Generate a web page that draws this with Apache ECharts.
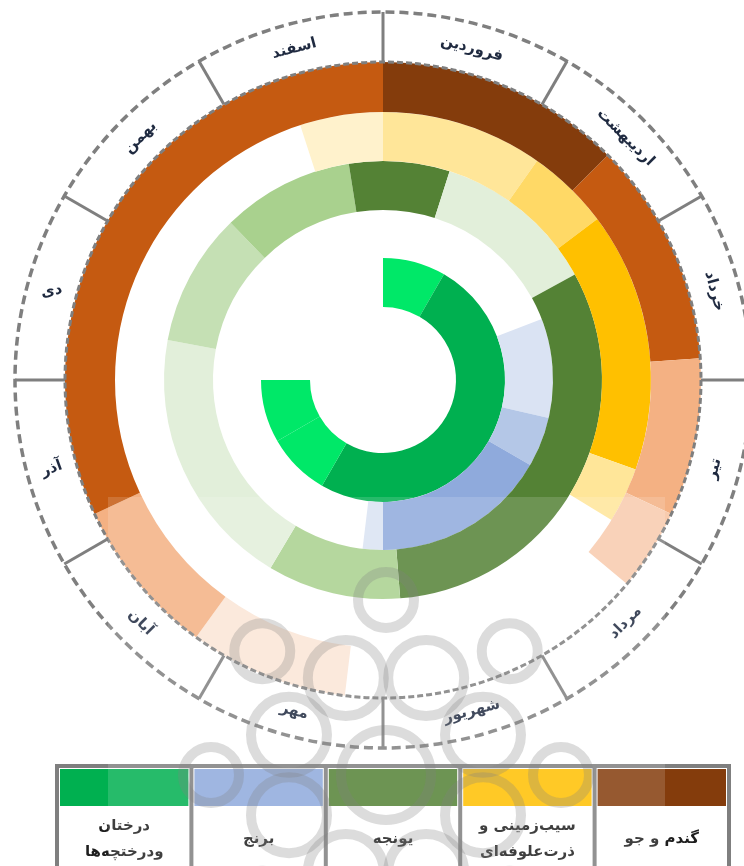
<!DOCTYPE html>
<html lang="fa">
<head>
<meta charset="utf-8">
<title>تقویم زراعی</title>
<script src="https://cdn.jsdelivr.net/npm/echarts@6.0.0/dist/echarts.min.js"></script>
<style>
  html, body { margin: 0; padding: 0; background: #fff; }
  #chart { width: 744px; height: 866px; }
</style>
</head>
<body>
<div id="chart"></div>
<script>
// months, Farvardin at the top, going clockwise
const months = ['فروردین', 'اردیبهشت', 'خرداد', 'تیر', 'مرداد', 'شهریور', 'مهر', 'آبان', 'آذر', 'دی', 'بهمن', 'اسفند'];

// each row: [from month, to month, stage]   stage 0 = nothing in the field
const wheatSeg = [[0, 1.5, 5], [1.5, 2.87, 4], [2.87, 3.83, 3], [3.83, 4.33, 2], [4.33, 6.23, 0], [6.23, 7.2, 1], [7.2, 8.17, 3], [8.17, 12, 4]];
const potatoSeg = [[0, 1.17, 2], [1.17, 1.77, 3], [1.77, 3.65, 4], [3.65, 4.05, 2], [4.05, 11.4, 0], [11.4, 12, 1]];
const alfalfaSeg = [[0, 0.59, 4], [0.59, 2.04, 1], [2.04, 5.85, 4], [5.85, 7.03, 3], [7.03, 9.35, 1], [9.35, 10.53, 2], [10.53, 11.7, 3], [11.7, 12, 4]];
const riceSeg = [[0, 2.3, 0], [2.3, 3.43, 1], [3.43, 4, 2], [4, 6, 3], [6, 6.23, 1], [6.23, 12, 0]];
const treeSeg = [[0, 1, 1], [1, 7, 2], [7, 8, 1], [8, 9, 1], [9, 12, 0]];

// legend table, right to left as in the picture
const cropNames = ['گندم و جو', 'سیب\u200cزمینی و\nذرت\u200cعلوفه\u200cای', 'یونجه', 'برنج', 'درختان\nودرختچه\u200cها'];

// colours, light -> dark, per crop
const palettes = {
  wheat: ['#FBE5D6', '#F8CBAD', '#F4B183', '#C55A11', '#843C0C'],
  potato: ['#FFF2CC', '#FFE699', '#FFD966', '#FFC000'],
  alfalfa: ['#E2EFDA', '#C5E0B4', '#A9D18E', '#548235'],
  rice: ['#DAE3F3', '#B4C7E7', '#8FAADC'],
  tree: ['#00E868', '#00B050']
};
const legendColors = ['#843C0C', '#FFC000', '#548235', '#8FAADC', '#00B050'];

const cx = 383, cy = 380;
const rInner = 318, rOuter = 368;
const grey = '#7F7F7F';

const chart = echarts.init(document.getElementById('chart'), null, {renderer: 'canvas'});

function ring(name, seg, palette, r0, r1) {
  return {
    name: name,
    type: 'pie',
    center: [cx, cy],
    radius: [r0, r1],
    startAngle: 90,
    clockwise: true,
    silent: true,
    animation: false,
    minAngle: 0,
    avoidLabelOverlap: false,
    label: {show: false},
    labelLine: {show: false},
    emphasis: {disabled: true},
    itemStyle: {borderWidth: 0},
    data: seg.map(s => ({
      value: s[1] - s[0],
      itemStyle: {color: s[2] ? palette[s[2] - 1] : 'rgba(0,0,0,0)'}
    }))
  };
}

function polar(r, deg) {
  const a = deg * Math.PI / 180;
  return [cx + r * Math.sin(a), cy - r * Math.cos(a)];
}

const graphics = [];

// dashed month band + ticks
graphics.push({
  type: 'circle', z: 10, silent: true,
  shape: {cx: cx, cy: cy, r: rOuter},
  style: {fill: 'none', stroke: grey, lineWidth: 3.5, lineDash: [9, 5]}
});
graphics.push({
  type: 'circle', z: 10, silent: true,
  shape: {cx: cx, cy: cy, r: rInner},
  style: {fill: 'none', stroke: grey, lineWidth: 3, lineDash: [6, 3]}
});
for (let i = 0; i < 12; i++) {
  const p1 = polar(rInner, i * 30), p2 = polar(rOuter, i * 30);
  graphics.push({
    type: 'line', z: 10, silent: true,
    shape: {x1: p1[0], y1: p1[1], x2: p2[0], y2: p2[1]},
    style: {stroke: grey, lineWidth: 3}
  });
}

// month names
const tiltFix = {8: -20, 9: -10};   // آذر and دی sit almost flat in the original
months.forEach((m, i) => {
  const th = i * 30 + 15;
  let rot = (th > 90 && th < 270) ? th - 180 : (th > 270 ? th - 360 : th);
  if (tiltFix[i] !== undefined) rot = tiltFix[i];
  const p = polar(343, th);
  graphics.push({
    type: 'text', z: 11, silent: true,
    x: p[0], y: p[1], rotation: -rot * Math.PI / 180,
    style: {
      text: m, fill: '#1F2A40', font: 'bold 15px "DejaVu Sans"',
      align: 'center', verticalAlign: 'middle'
    }
  });
});

// legend table
const tLeft = 57, tRight = 729, tTop = 766, colW = (tRight - tLeft) / 5;
graphics.push({
  type: 'rect', z: 5, silent: true,
  shape: {x: tLeft, y: tTop, width: tRight - tLeft, height: 110},
  style: {fill: '#fff', stroke: grey, lineWidth: 4}
});
cropNames.forEach((name, k) => {
  const col = 4 - k;   // first name sits in the rightmost column
  const x0 = tLeft + col * colW;
  graphics.push({
    type: 'rect', z: 6, silent: true,
    shape: {x: x0 + 3, y: tTop + 3, width: colW - 6, height: 37},
    style: {fill: legendColors[k]}
  });
  graphics.push({
    type: 'text', z: 7, silent: true,
    x: x0 + colW / 2, y: 839,
    style: {
      text: name, fill: '#1E1E1E', font: 'bold 15px "DejaVu Sans"',
      align: 'center', verticalAlign: 'middle', lineHeight: 26
    }
  });
});
for (let c = 1; c < 5; c++) {
  const x = tLeft + c * colW;
  graphics.push({
    type: 'line', z: 7, silent: true,
    shape: {x1: x, y1: tTop, x2: x, y2: 866},
    style: {stroke: grey, lineWidth: 4}
  });
}

// watermark: pale sheet with a rough rosette, mostly cut off by the page bottom
graphics.push({
  type: 'rect', z: 20, silent: true,
  shape: {x: 108, y: 497, width: 557, height: 369},
  style: {fill: 'rgba(255,255,255,0.15)'}
});
const lc = [386, 775];
const ink = 'rgba(130,130,130,0.28)';
for (let k = 0; k < 8; k++) {
  const a = k * Math.PI / 4 + Math.PI / 8;
  graphics.push({
    type: 'circle', z: 21, silent: true,
    shape: {cx: lc[0] + 105 * Math.cos(a), cy: lc[1] + 105 * Math.sin(a), r: 38},
    style: {fill: 'none', stroke: ink, lineWidth: 10}
  });
  const b = k * Math.PI / 4;
  graphics.push({
    type: 'circle', z: 21, silent: true,
    shape: {cx: lc[0] + 175 * Math.cos(b), cy: lc[1] + 175 * Math.sin(b), r: 28},
    style: {fill: 'none', stroke: ink, lineWidth: 10}
  });
}
graphics.push({
  type: 'circle', z: 21, silent: true,
  shape: {cx: lc[0], cy: lc[1], r: 45},
  style: {fill: 'none', stroke: ink, lineWidth: 10}
});

const option = {
  backgroundColor: '#fff',
  animation: false,
  series: [
    ring('درختان', treeSeg, palettes.tree, 73, 122),
    ring('برنج', riceSeg, palettes.rice, 122, 170),
    ring('یونجه', alfalfaSeg, palettes.alfalfa, 170, 219),
    ring('سیب‌زمینی و ذرت', potatoSeg, palettes.potato, 219, 268),
    ring('گندم و جو', wheatSeg, palettes.wheat, 268, 318)
  ],
  graphic: graphics
};

chart.setOption(option);
</script>
</body>
</html>
